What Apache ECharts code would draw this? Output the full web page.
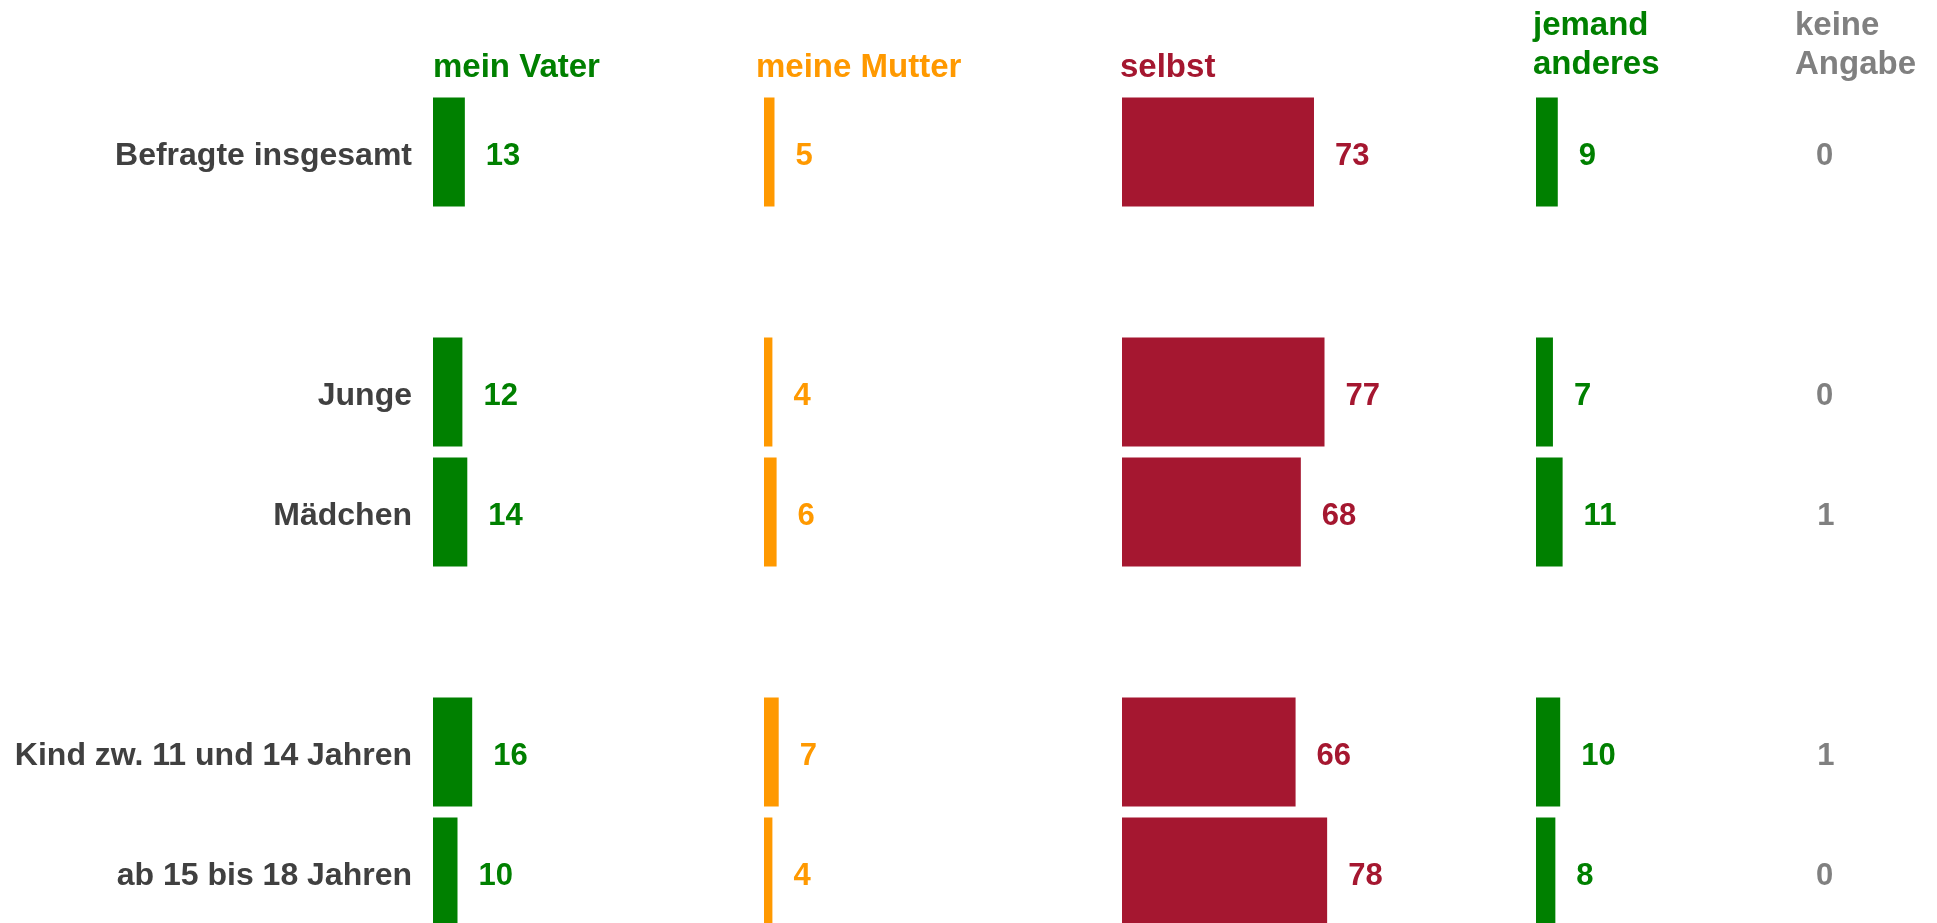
<!DOCTYPE html>
<html>
<head>
<meta charset="utf-8">
<title>Wer entscheidet?</title>
<script src="https://cdn.jsdelivr.net/npm/echarts@6/dist/echarts.min.js"></script>
<style>
  html, body { margin: 0; padding: 0; background: #ffffff; }
  #chart { width: 1937px; height: 923px; }
</style>
</head>
<body>
<div id="chart"></div>
<script>
// Row labels, grouped: total, by gender, by age
const categories = ['Befragte insgesamt', 'Junge', 'Mädchen', 'Kind zw. 11 und 14 Jahren', 'ab 15 bis 18 Jahren'];
const groupSizes = [1, 2, 2];

// Answers in percent, one array per column
const meinVater = [13, 12, 14, 16, 10];
const meineMutter = [5, 4, 6, 7, 4];
const selbst = [73, 77, 68, 66, 78];
const jemandAnderes = [9, 7, 11, 10, 8];
const keineAngabe = [0, 0, 1, 1, 0];

// Column headers
const headers = [['mein Vater'], ['meine Mutter'], ['selbst'], ['jemand', 'anderes'], ['keine', 'Angabe']];

// Column setup: values, colour, left edge of the bars, header left edge, px per percent
const columns = [
  { values: meinVater,     color: '#008000', left: 433,  headerLeft: 433,  scale: 2.45, showBar: true },
  { values: meineMutter,   color: '#FF9900', left: 764,  headerLeft: 756,  scale: 2.1,  showBar: true },
  { values: selbst,        color: '#A51730', left: 1122, headerLeft: 1120, scale: 2.63, showBar: true },
  { values: jemandAnderes, color: '#008000', left: 1536, headerLeft: 1533, scale: 2.42, showBar: true },
  { values: keineAngabe,   color: '#808080', left: 1795, headerLeft: 1795, scale: 1.3,  showBar: false }
];

// Build the category slots with an empty slot between groups
const slotLabels = [];
const slotIndex = [];
let k = 0;
groupSizes.forEach((size, g) => {
  if (g > 0) { slotLabels.push(' '.repeat(g)); slotIndex.push(-1); }
  for (let i = 0; i < size; i++) { slotLabels.push(categories[k]); slotIndex.push(k); k++; }
});

const FONT = '"Liberation Sans", Arial, sans-serif';
const TOP = 92, SLOT = 120;

const grid = [], xAxis = [], yAxis = [], series = [], graphic = [];
columns.forEach((col, c) => {
  grid.push({ left: col.left, top: TOP, width: col.scale * 100, height: SLOT * slotLabels.length, containLabel: false, outerBoundsMode: 'none' });
  xAxis.push({ type: 'value', gridIndex: c, min: 0, max: 100, show: false });
  yAxis.push({
    type: 'category', gridIndex: c, inverse: true, data: slotLabels,
    axisLine: { show: false }, axisTick: { show: false }, splitLine: { show: false },
    axisLabel: {
      show: c === 0, margin: 21, color: '#404040', fontSize: 32, fontWeight: 'bold', fontFamily: FONT,
      // a short line box hung from the tick centre drops the text a few pixels
      verticalAlign: 'top', lineHeight: 8
    }
  });
  series.push({
    type: 'bar', xAxisIndex: c, yAxisIndex: c,
    barCategoryGap: '9%',
    silent: true,
    data: slotIndex.map(i => (i < 0 ? '-' : col.values[i])),
    itemStyle: { color: col.showBar ? col.color : 'rgba(0,0,0,0)' },
    label: {
      show: true, position: 'right', distance: 21, offset: [0, 4],
      color: col.color, fontSize: 31, fontWeight: 'bold', fontFamily: FONT,
      formatter: '{c}'
    }
  });
  const lines = headers[c];
  graphic.push({
    type: 'text', left: col.headerLeft, top: lines.length > 1 ? 6 : 48,
    style: {
      text: lines.join('\n'), fill: col.color, font: 'bold 33px ' + FONT, lineHeight: 39
    }
  });
});

const chart = echarts.init(document.getElementById('chart'));
chart.setOption({
  backgroundColor: '#ffffff',
  animation: false,
  grid, xAxis, yAxis, series, graphic
});
</script>
</body>
</html>
